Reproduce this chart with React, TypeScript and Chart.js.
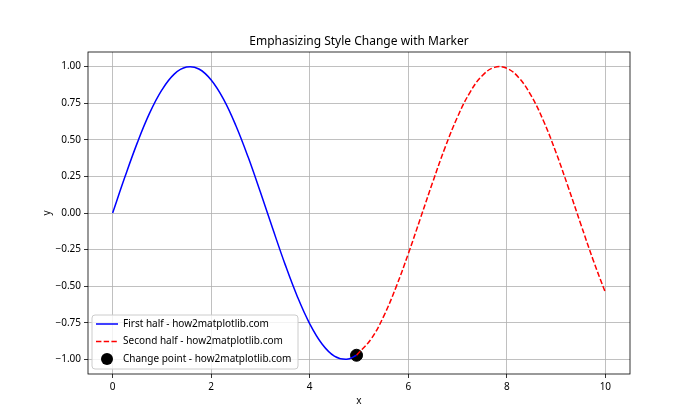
import React, { useEffect, useRef } from "react";
import { Chart, registerables } from "chart.js";

Chart.register(...registerables);

const titleText = "Emphasizing Style Change with Marker";
const xLabel = "x";
const yLabel = "y";

const firstLabel = "First half - how2matplotlib.com";
const secondLabel = "Second half - how2matplotlib.com";
const changeLabel = "Change point - how2matplotlib.com";

const firstX = [0, 0.25, 0.5, 0.75, 1.0, 1.25, 1.5, 1.75, 2.0, 2.25, 2.5, 2.75, 3.0, 3.25, 3.5, 3.75, 4.0, 4.25, 4.5, 4.75, 4.95];
const firstY = [0, 0.247, 0.479, 0.682, 0.841, 0.949, 0.997, 0.984, 0.909, 0.778, 0.598, 0.382, 0.141, -0.108, -0.351, -0.572, -0.757, -0.895, -0.978, -0.999, -0.972];

const secondX = [4.95, 5.25, 5.5, 5.75, 6.0, 6.25, 6.5, 6.75, 7.0, 7.25, 7.5, 7.75, 8.0, 8.25, 8.5, 8.75, 9.0, 9.25, 9.5, 9.75, 10.0];
const secondY = [-0.972, -0.859, -0.706, -0.508, -0.279, -0.033, 0.215, 0.45, 0.657, 0.823, 0.938, 0.995, 0.989, 0.922, 0.798, 0.625, 0.412, 0.173, -0.075, -0.319, -0.544];

const changeX = [4.95];
const changeY = [-0.972];

const xTicks = [0, 2, 4, 6, 8, 10];
const yTicks = [-1.0, -0.75, -0.5, -0.25, 0.0, 0.25, 0.5, 0.75, 1.0];

const FONT = "'Noto Sans', 'DejaVu Sans', sans-serif";

const decorPlugin = {
  id: "decor",
  beforeDraw(chart: any) {
    const ctx = chart.ctx;
    ctx.save();
    ctx.fillStyle = "#ffffff";
    ctx.fillRect(0, 0, chart.width, chart.height);
    ctx.restore();
  },
  afterDraw(chart: any) {
    const ctx = chart.ctx;
    const a = chart.chartArea;
    ctx.save();
    // frame
    ctx.strokeStyle = "#000000";
    ctx.lineWidth = 0.8;
    ctx.strokeRect(a.left, a.top, a.right - a.left, a.bottom - a.top);

    // title
    ctx.fillStyle = "#000000";
    ctx.font = `12px ${FONT}`;
    ctx.textAlign = "center";
    ctx.textBaseline = "alphabetic";
    ctx.fillText(titleText, (a.left + a.right) / 2, 45);

    // axis labels
    ctx.font = `10px ${FONT}`;
    ctx.textBaseline = "middle";
    ctx.fillText(xLabel, (a.left + a.right) / 2, 401);
    ctx.save();
    ctx.translate(47, (a.top + a.bottom) / 2);
    ctx.rotate(-Math.PI / 2);
    ctx.fillText(yLabel, 0, 0);
    ctx.restore();

    // legend
    const bx = 92, by = 315, bw = 206, bh = 54, r = 3;
    ctx.beginPath();
    ctx.moveTo(bx + r, by);
    ctx.lineTo(bx + bw - r, by);
    ctx.arcTo(bx + bw, by, bx + bw, by + r, r);
    ctx.lineTo(bx + bw, by + bh - r);
    ctx.arcTo(bx + bw, by + bh, bx + bw - r, by + bh, r);
    ctx.lineTo(bx + r, by + bh);
    ctx.arcTo(bx, by + bh, bx, by + bh - r, r);
    ctx.lineTo(bx, by + r);
    ctx.arcTo(bx, by, bx + r, by, r);
    ctx.closePath();
    ctx.fillStyle = "rgba(255,255,255,0.8)";
    ctx.fill();
    ctx.strokeStyle = "#cccccc";
    ctx.lineWidth = 1;
    ctx.stroke();

    const ds = chart.data.datasets;
    const rows = [324, 341.5, 359];
    ds.forEach((d: any, i: number) => {
      const y = rows[i];
      if (d.showLine === false) {
        ctx.beginPath();
        ctx.arc(107, y, 6, 0, Math.PI * 2);
        ctx.fillStyle = "#000000";
        ctx.fill();
      } else {
        ctx.beginPath();
        ctx.setLineDash(d.borderDash || []);
        ctx.strokeStyle = d.borderColor;
        ctx.lineWidth = 1.5;
        ctx.moveTo(96, y);
        ctx.lineTo(118, y);
        ctx.stroke();
        ctx.setLineDash([]);
      }
      ctx.fillStyle = "#000000";
      ctx.font = `10px ${FONT}`;
      ctx.textAlign = "left";
      ctx.textBaseline = "middle";
      ctx.fillText(d.label, 123, y);
    });
    ctx.restore();
  },
};

export default function App() {
  const ref = useRef<HTMLCanvasElement | null>(null);
  useEffect(() => {
    if (!ref.current) return;
    const chart = new Chart(ref.current, {
      type: "line",
      data: {
        datasets: [
          {
            label: firstLabel,
            data: firstX.map((x, i) => ({ x, y: firstY[i] })),
            borderColor: "#0000ff",
            borderWidth: 1.5,
            pointRadius: 0,
            tension: 0.4,
            fill: false,
          },
          {
            label: secondLabel,
            data: secondX.map((x, i) => ({ x, y: secondY[i] })),
            borderColor: "#ff0000",
            borderWidth: 1.5,
            borderDash: [5.4, 2.3],
            pointRadius: 0,
            tension: 0.4,
            fill: false,
          },
          {
            label: changeLabel,
            data: changeX.map((x, i) => ({ x, y: changeY[i] })),
            showLine: false,
            pointRadius: 6,
            pointBackgroundColor: "#000000",
            pointBorderColor: "#000000",
            borderColor: "#000000",
          },
        ],
      },
      options: {
        responsive: false,
        animation: false,
        devicePixelRatio: 1,
        layout: { padding: { top: 52, right: 70, left: 0, bottom: 0 } },
        plugins: {
          legend: { display: false },
          title: { display: false },
          tooltip: { enabled: false },
        },
        scales: {
          x: {
            type: "linear",
            min: -0.5,
            max: 10.5,
            afterBuildTicks: (s: any) => {
              s.ticks = xTicks.map((v) => ({ value: v }));
            },
            afterFit: (s: any) => {
              s.height = 46;
            },
            grid: {
              color: "#b0b0b0",
              lineWidth: 0.8,
              tickLength: 4,
              tickColor: "#000000",
              tickWidth: 0.8,
            },
            border: { display: false },
            ticks: {
              color: "#000000",
              padding: 3,
              maxRotation: 0,
              font: { family: FONT, size: 10 },
              callback: (v: any) => String(v),
            },
          },
          y: {
            type: "linear",
            min: -1.1,
            max: 1.1,
            afterBuildTicks: (s: any) => {
              s.ticks = yTicks.map((v) => ({ value: v }));
            },
            afterFit: (s: any) => {
              s.width = 88;
            },
            grid: {
              color: "#b0b0b0",
              lineWidth: 0.8,
              tickLength: 4,
              tickColor: "#000000",
              tickWidth: 0.8,
            },
            border: { display: false },
            ticks: {
              color: "#000000",
              padding: 3,
              font: { family: FONT, size: 10 },
              callback: (v: any) => (v < 0 ? "\u2212" : "") + Math.abs(v).toFixed(2),
            },
          },
        },
      },
      plugins: [decorPlugin],
    } as any);
    return () => chart.destroy();
  }, []);
  return (
    <div style={{ position: "fixed", left: 0, top: 0, width: 700, height: 420 }}>
      <canvas ref={ref} width={700} height={420} />
    </div>
  );
}
